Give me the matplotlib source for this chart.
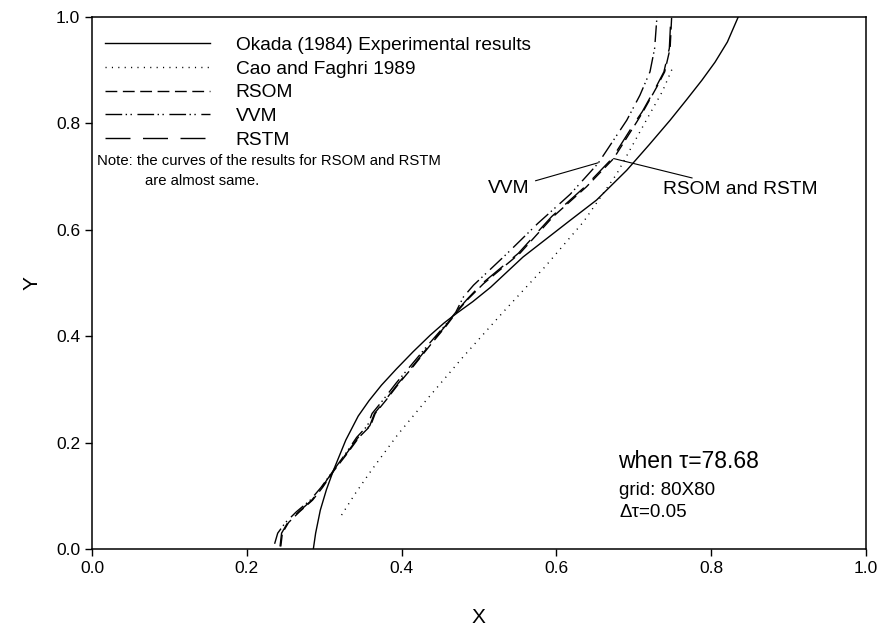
import matplotlib
matplotlib.use("Agg")
import matplotlib.pyplot as plt

plt.rcParams['font.family'] = ['Liberation Sans', 'DejaVu Sans']
plt.rcParams['lines.scale_dashes'] = False

# Okada (1984) experimental results
okada_x = [0.286, 0.289, 0.295, 0.303, 0.312, 0.328, 0.344, 0.358, 0.374, 0.393, 0.415,
           0.437, 0.455, 0.472, 0.492, 0.515, 0.557, 0.618, 0.652, 0.691, 0.720, 0.747,
           0.768, 0.788, 0.805, 0.821, 0.835]
okada_y = [0.000, 0.030, 0.073, 0.112, 0.148, 0.205, 0.250, 0.279, 0.308, 0.338, 0.371,
           0.402, 0.425, 0.444, 0.465, 0.492, 0.549, 0.618, 0.656, 0.712, 0.760, 0.806,
           0.844, 0.881, 0.915, 0.953, 1.000]

# Cao and Faghri 1989
cao_x = [0.3225, 0.340, 0.361, 0.395, 0.432, 0.480, 0.531, 0.585, 0.635, 0.678, 0.717, 0.737, 0.751]
cao_y = [0.064, 0.104, 0.148, 0.215, 0.280, 0.362, 0.445, 0.530, 0.615, 0.705, 0.808, 0.860, 0.907]

# RSOM
rsom_x = [0.244, 0.246, 0.254, 0.268, 0.285, 0.298, 0.313, 0.330, 0.345, 0.360, 0.366, 0.380,
          0.397, 0.416, 0.438, 0.458, 0.471, 0.486, 0.506, 0.553, 0.596, 0.639, 0.674, 0.704,
          0.712, 0.730, 0.740, 0.747, 0.749]
rsom_y = [0.005, 0.030, 0.050, 0.070, 0.092, 0.116, 0.148, 0.180, 0.210, 0.232, 0.255, 0.280,
          0.312, 0.345, 0.385, 0.420, 0.445, 0.470, 0.499, 0.556, 0.625, 0.681, 0.734, 0.803,
          0.822, 0.869, 0.897, 0.941, 1.000]

# VVM
vvm_x = [0.236, 0.240, 0.250, 0.264, 0.282, 0.296, 0.312, 0.328, 0.342, 0.356, 0.362, 0.376,
         0.393, 0.412, 0.435, 0.456, 0.470, 0.480, 0.493, 0.536, 0.576, 0.618, 0.654, 0.691,
         0.708, 0.721, 0.727, 0.730]
vvm_y = [0.010, 0.030, 0.050, 0.070, 0.092, 0.116, 0.148, 0.180, 0.210, 0.232, 0.255, 0.280,
         0.312, 0.345, 0.385, 0.420, 0.445, 0.474, 0.496, 0.555, 0.612, 0.667, 0.725, 0.806,
         0.853, 0.897, 0.941, 1.000]

# RSTM
rstm_x = [0.243, 0.245, 0.253, 0.267, 0.284, 0.297, 0.312, 0.329, 0.344, 0.359, 0.365, 0.379,
          0.396, 0.415, 0.437, 0.457, 0.470, 0.485, 0.504, 0.551, 0.594, 0.637, 0.672, 0.702,
          0.711, 0.729, 0.739, 0.746, 0.748]
rstm_y = rsom_y

fig = plt.figure(figsize=(8.8, 6.29), dpi=100)
ax = fig.add_axes([0.1045, 0.127, 0.8795, 0.846])

lw = 1.0
ax.plot(okada_x, okada_y, color='black', lw=lw, label='Okada (1984) Experimental results')
ax.plot(cao_x, cao_y, color='black', lw=lw, linestyle=(0, (0.8, 3.8)),
        label='Cao and Faghri 1989')
ax.plot(rsom_x, rsom_y, color='black', lw=lw, linestyle=(0, (8.5, 4)), label='RSOM')
ax.plot(vvm_x, vvm_y, color='black', lw=lw,
        linestyle=(0, (12, 2.5, 1, 2.5, 1, 4)), label='VVM')
ax.plot(rstm_x, rstm_y, color='black', lw=lw, linestyle=(0, (18, 9)), label='RSTM')

ax.set_xlim(0, 1)
ax.set_ylim(0, 1)
ax.set_xticks([0.0, 0.2, 0.4, 0.6, 0.8, 1.0])
ax.set_yticks([0.0, 0.2, 0.4, 0.6, 0.8, 1.0])
ax.tick_params(direction='out', length=5, width=1, labelsize=12.5, top=False, right=False)
for s in ax.spines.values():
    s.set_linewidth(1.1)
ax.set_xlabel('X', fontsize=15, labelpad=23)
ax.set_ylabel('Y', fontsize=15, labelpad=10)

ax.legend(loc='upper left', bbox_to_anchor=(0.0168, 0.9635), frameon=False, fontsize=13.8,
          handlelength=5.47, handletextpad=1.35, labelspacing=0.33,
          borderaxespad=0, borderpad=0)

ax.text(0.007, 0.729, 'Note: the curves of the results for RSOM and RSTM', fontsize=10.75,
        va='center', ha='left')
ax.text(0.069, 0.691, 'are almost same.', fontsize=10.75, va='center', ha='left')

ax.annotate('VVM', xy=(0.654, 0.726), xytext=(0.566, 0.678), fontsize=13.8,
            ha='right', va='center', arrowprops=dict(arrowstyle='-', lw=0.8, color='black',
                                                    shrinkA=2, shrinkB=0))
ax.annotate('RSOM and RSTM', xy=(0.674, 0.734), xytext=(0.738, 0.675), fontsize=13.8,
            ha='left', va='center', arrowprops=dict(arrowstyle='-', lw=0.8, color='black',
                                                   shrinkA=2, shrinkB=0))

ax.text(0.680, 0.165, 'when \u03c4=78.68', fontsize=16.5, va='center', ha='left')
ax.text(0.681, 0.111, 'grid: 80X80', fontsize=13.5, va='center', ha='left')
ax.text(0.681, 0.068, '\u0394\u03c4=0.05', fontsize=13.5, va='center', ha='left')

fig.savefig('out.png', dpi=100)
